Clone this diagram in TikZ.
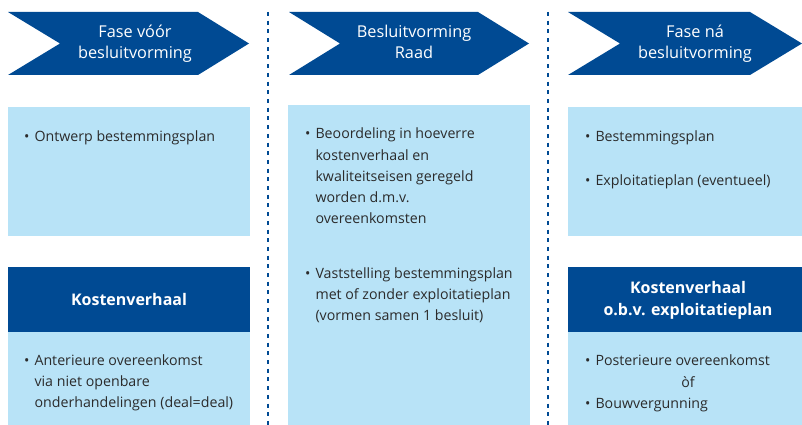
\documentclass[tikz,border=0pt]{standalone}
\usepackage{fontspec}
\setmainfont{Open Sans}
\definecolor{darkblue}{HTML}{004A93}
\definecolor{lightblue}{HTML}{B8E3F7}
\definecolor{txtgray}{HTML}{2B2B2B}
\newcommand{\bodyfont}{\fontsize{14.2}{21.2}\selectfont}
\newcommand{\headfont}{\fontsize{16.3}{20.5}\selectfont}
\begin{document}
\begin{tikzpicture}[x=1pt,y=-1pt,
  chev/.style={fill=darkblue},
  lbox/.style={fill=lightblue},
  dbox/.style={fill=darkblue},
  divider/.style={draw=darkblue, line width=2.5pt, dash pattern=on 4pt off 4.7pt},
  headtxt/.style={text=white, font=\headfont, align=center, inner sep=0pt},
  bodytxt/.style={text=txtgray, font=\bodyfont, inner sep=0pt, anchor=base west},
  darktxt/.style={text=white, font=\fontsize{16}{22}\selectfont\bfseries, align=center, inner sep=0pt}
]
\useasboundingbox (0,0) rectangle (802,425);
% chevrons
\path[chev] (8,12) -- (198,12) -- (249,43.5) -- (198,75) -- (8,75) -- (60,43.5) -- cycle;
\path[chev] (289,12) -- (478,12) -- (529,43.5) -- (478,75) -- (289,75) -- (340,43.5) -- cycle;
\path[chev] (568,12) -- (750,12) -- (802,43.5) -- (750,75) -- (568,75) -- (620,43.5) -- cycle;
\node[headtxt, anchor=base] (h1) at (135,58.5) {Fase vóór\\besluitvorming};
\node[headtxt, anchor=base] (h2) at (414,58.5) {Besluitvorming\\Raad};
\node[headtxt, anchor=base] (h3) at (695,58.5) {Fase ná\\besluitvorming};
% dividers
\coordinate (d1t) at (268,12); \coordinate (d1b) at (268,425);
\coordinate (d2t) at (548,12); \coordinate (d2b) at (548,425);
\draw[divider] (d1t) -- (d1b);
\draw[divider] (d2t) -- (d2b);
% boxes
\path[lbox] (8,107) rectangle (250,236);
\path[dbox] (8,267) rectangle (250,332);
\path[lbox] (8,332) rectangle (250,425);
\path[lbox] (288,105) rectangle (530,425);
\path[lbox] (568,107) rectangle (802,236);
\path[dbox] (568,267) rectangle (802,332);
\path[lbox] (568,332) rectangle (802,425);
% texts
\node[bodytxt] (t1) at (24,141) {\begin{tabular}[t]{@{}l@{\hspace{5pt}}l@{}}•&Ontwerp bestemmingsplan\end{tabular}};
\node[darktxt, anchor=base] (k1) at (129,305.5) {Kostenverhaal};
\node[bodytxt] (t2) at (24,365) {\begin{tabular}[t]{@{}l@{\hspace{5pt}}l@{}}•&Anterieure overeenkomst\\&via niet openbare\\&onderhandelingen (deal=deal)\end{tabular}};
\node[bodytxt] (m1) at (305,139) {\begin{tabular}[t]{@{}l@{\hspace{5pt}}l@{}}•&Beoordeling in hoeverre\\&kostenverhaal en\\&kwaliteitseisen geregeld\\&worden d.m.v.\\&overeenkomsten\end{tabular}};
\node[bodytxt] (m2) at (305,278) {\begin{tabular}[t]{@{}l@{\hspace{5pt}}l@{}}•&Vaststelling bestemmingsplan\\&met of zonder exploitatieplan\\&(vormen samen 1 besluit)\end{tabular}};
\node[bodytxt] (r1) at (585,141) {\begin{tabular}[t]{@{}l@{\hspace{5pt}}l@{}}•&Bestemmingsplan\end{tabular}};
\node[bodytxt] (r2) at (585,185) {\begin{tabular}[t]{@{}l@{\hspace{5pt}}l@{}}•&Exploitatieplan (eventueel)\end{tabular}};
\node[darktxt, anchor=base] (k2) at (688,315.5) {Kostenverhaal\\o.b.v. exploitatieplan};
\node[bodytxt] (r3) at (585,365) {\begin{tabular}[t]{@{}l@{\hspace{5pt}}l@{}}•&Posterieure overeenkomst\end{tabular}};
\node[text=txtgray, font=\bodyfont, inner sep=0pt, anchor=base] (of) at (688,387) {òf};
\node[bodytxt] (r4) at (585,408) {\begin{tabular}[t]{@{}l@{\hspace{5pt}}l@{}}•&Bouwvergunning\end{tabular}};
\end{tikzpicture}
\end{document}
